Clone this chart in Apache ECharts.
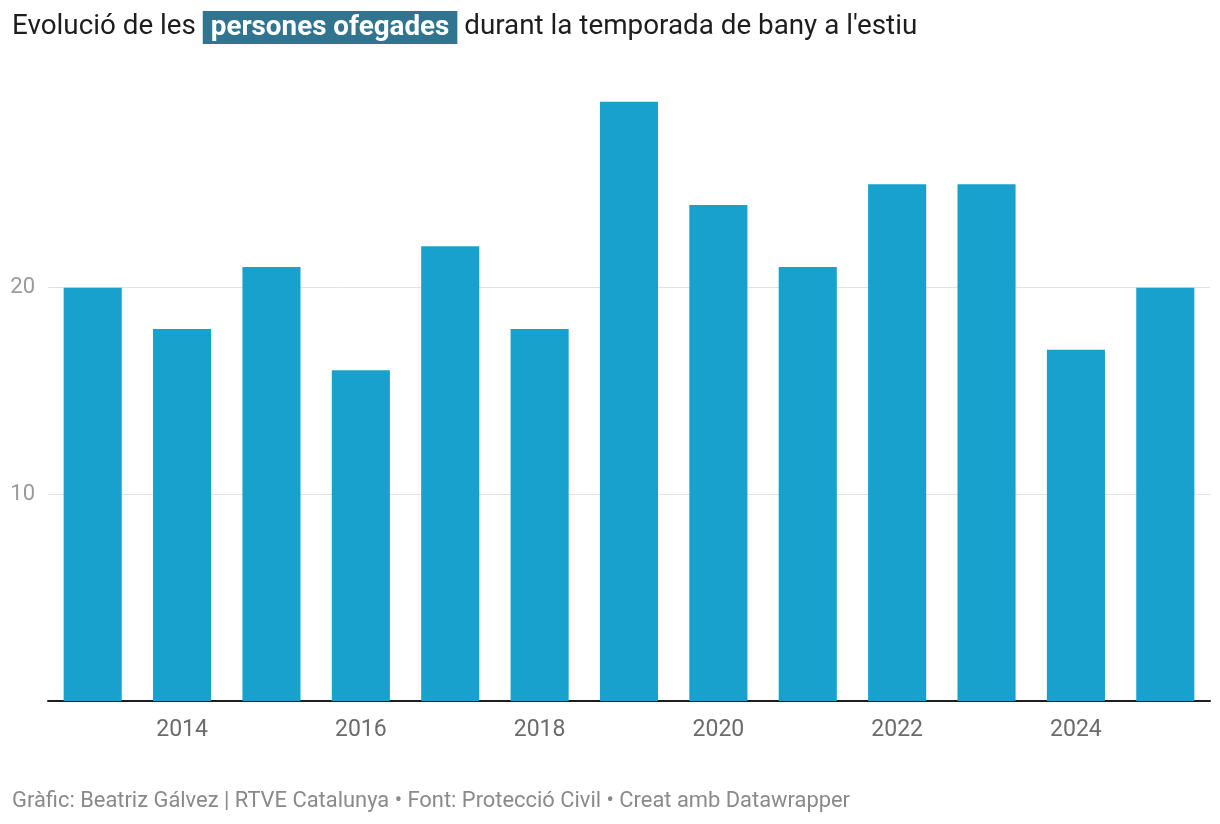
<!DOCTYPE html>
<html><head><meta charset="utf-8">
<script src="https://cdn.jsdelivr.net/npm/echarts@6/dist/echarts.min.js"></script>
<style>html,body{margin:0;padding:0;background:#fff}#c{width:1220px;height:824px}</style>
</head><body><div id="c"></div>
<script>
const years = ['2013','2014','2015','2016','2017','2018','2019','2020','2021','2022','2023','2024','2025'];
const drowned = [20,18,21,16,22,18,29,24,21,25,25,17,20];
const yTicks = [0,10,20,30];

const chart = echarts.init(document.getElementById('c'));
chart.setOption({
  animation:false,
  textStyle:{fontFamily:'Roboto'},
  title:[{
    left:7, top:6,
    text:'Evolució de les {h|persones ofegades} durant la temporada de bany a l\'estiu',
    textStyle:{fontSize:27.8,fontWeight:'normal',color:'#1d1d1d',fontFamily:'Roboto',
      rich:{h:{backgroundColor:'#30748f',color:'#fff',fontWeight:'bold',fontSize:27.8,fontFamily:'Roboto',padding:[3,8,2,8]}}}
  },{
    left:7, top:786,
    text:'Gràfic: Beatriz Gálvez | RTVE Catalunya • Font: Protecció Civil • Creat amb Datawrapper',
    textStyle:{fontSize:21.9,fontWeight:'normal',color:'#8a8a8a',fontFamily:'Roboto'}
  }],
  grid:{left:48,right:10,top:81,bottom:123,containLabel:false},
  xAxis:{type:'category',data:years,
    axisLine:{lineStyle:{color:'#1d1d1d',width:2}},
    axisTick:{show:false},
    axisLabel:{color:'#6b6b6b',fontSize:23,margin:18,interval:0,
      formatter:(v)=> (parseInt(v)%2===0? v : '')}
  },
  yAxis:{type:'value',min:yTicks[0],max:yTicks[yTicks.length-1],interval:10,
    axisLine:{show:false},axisTick:{show:false},
    splitLine:{lineStyle:{color:['transparent','#e2e2e2','#e2e2e2','transparent'],width:1}},
    axisLabel:{color:'#9a9a9a',fontSize:22,margin:13,
      formatter:(v)=> (v===10||v===20)? String(v):''}
  },
  series:[{type:'bar',data:drowned,barCategoryGap:'35%',
    itemStyle:{color:'#18a1cd'}}]
});
</script></body></html>
